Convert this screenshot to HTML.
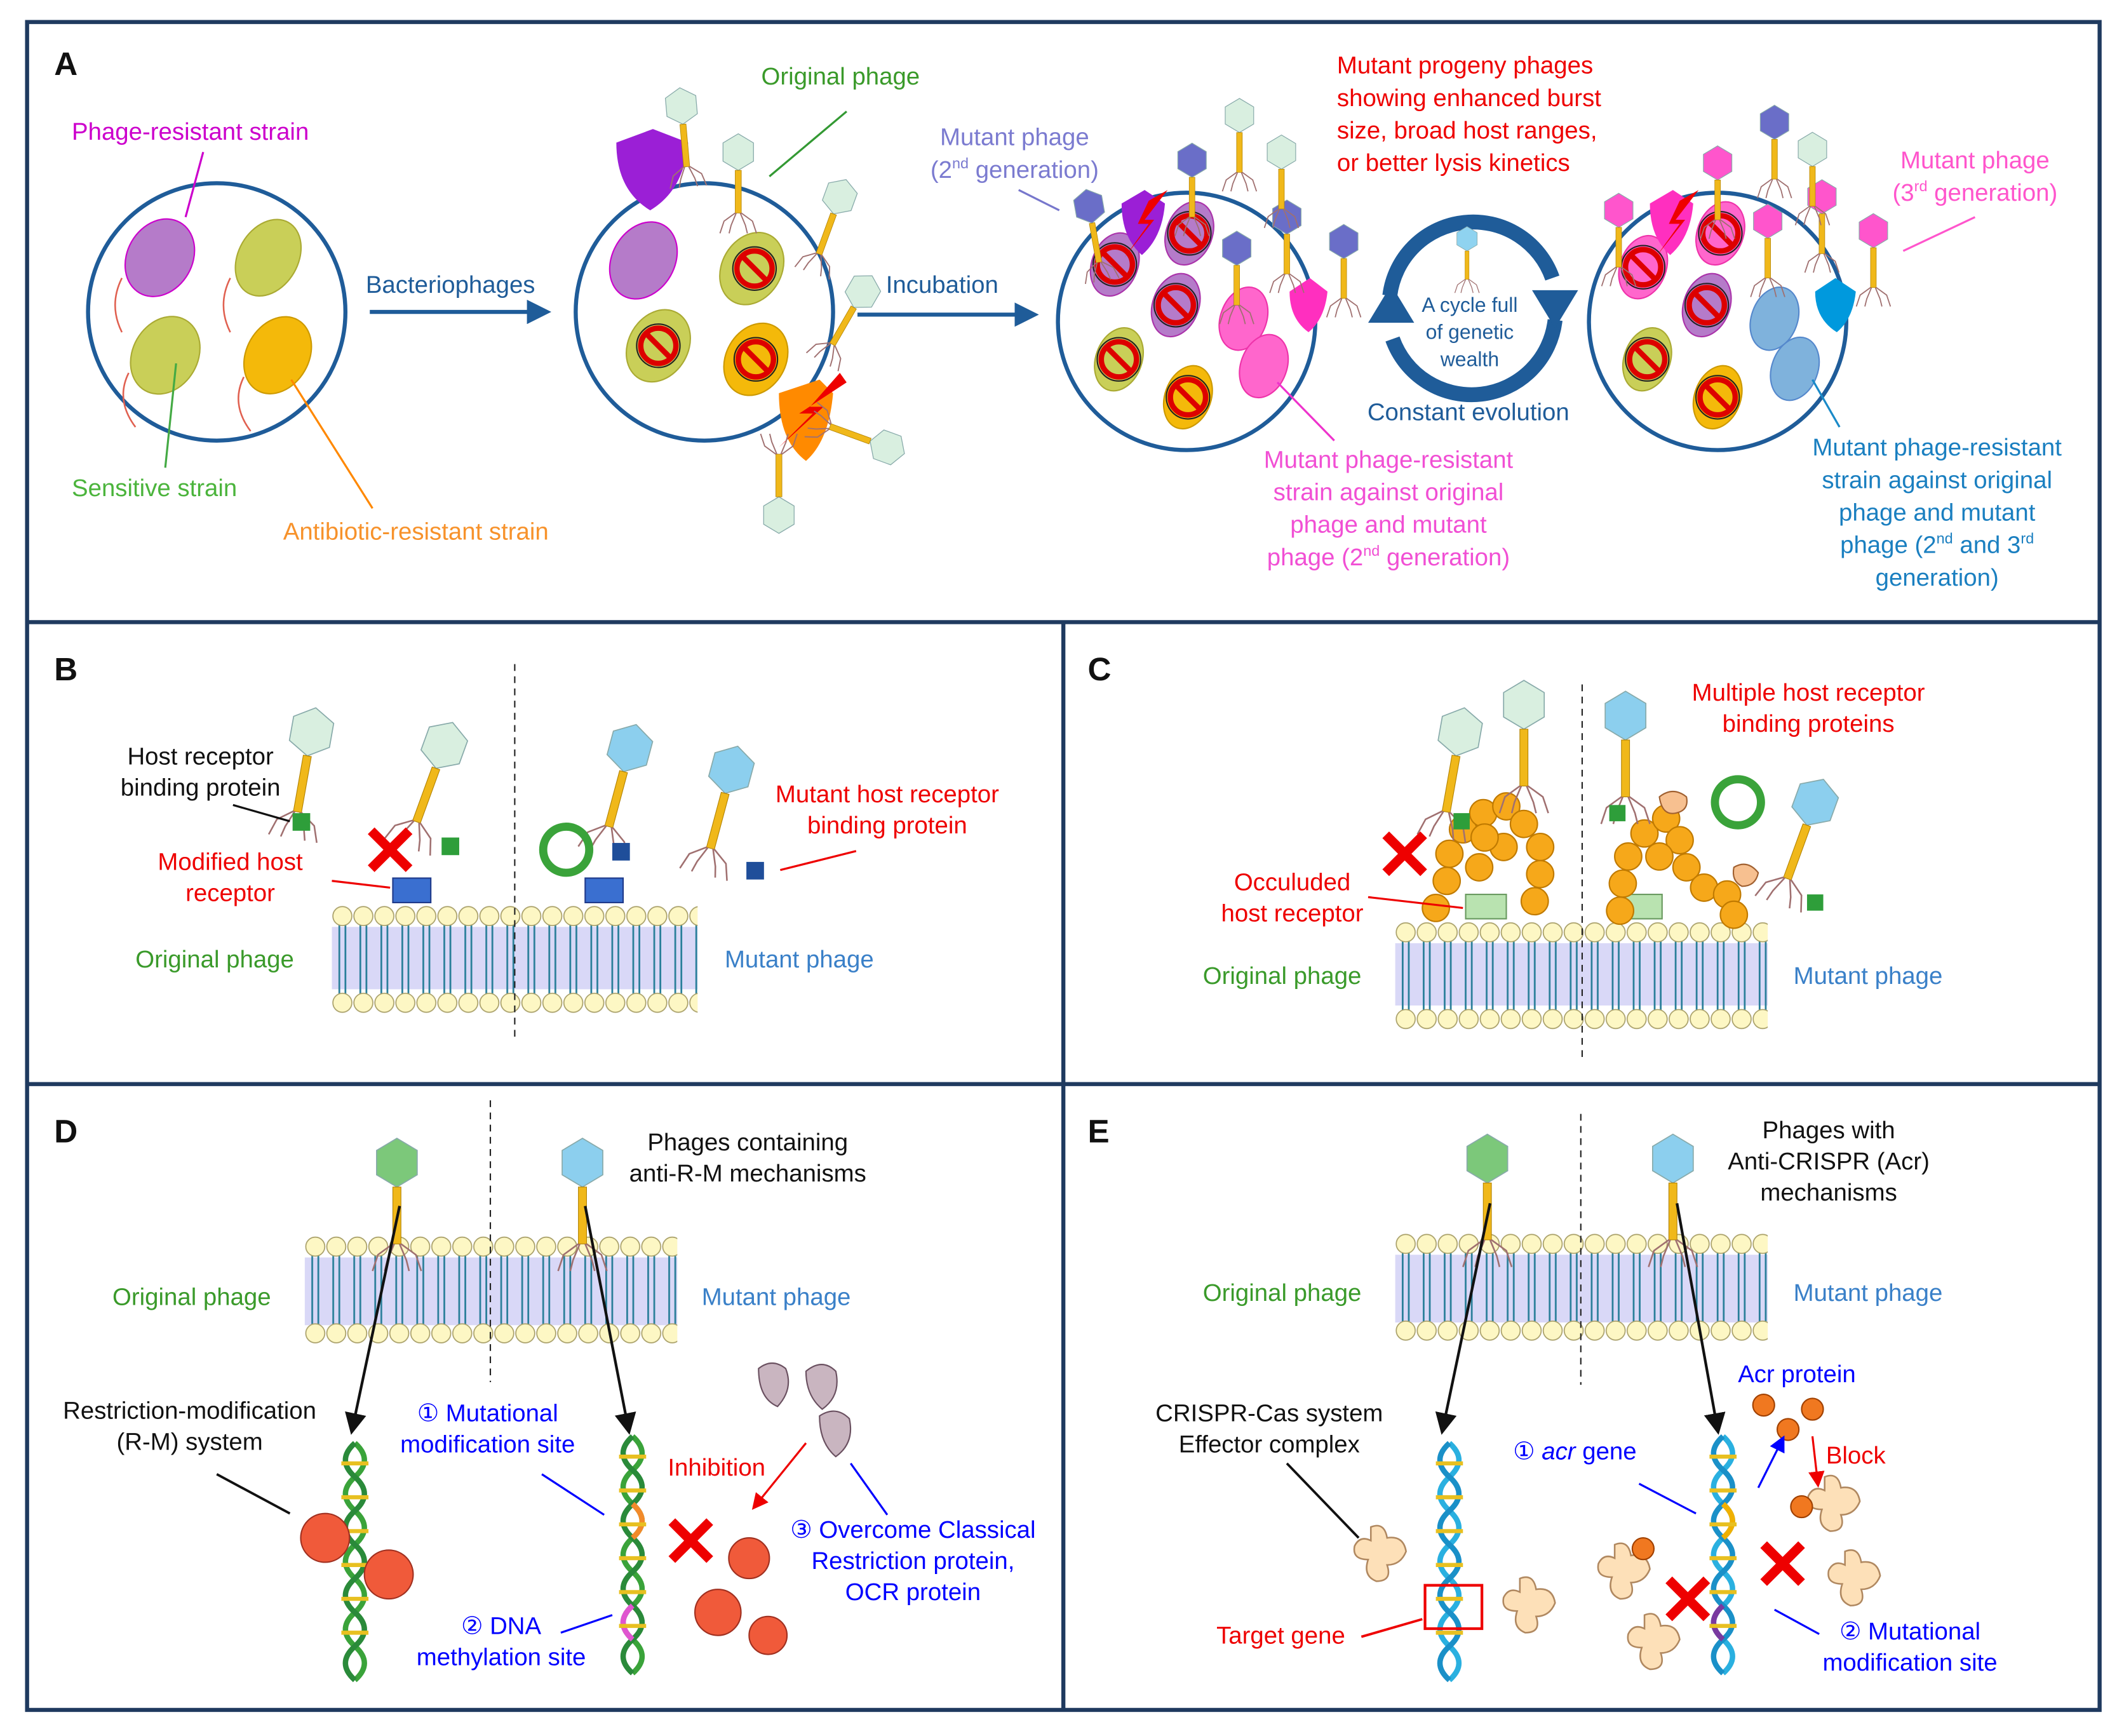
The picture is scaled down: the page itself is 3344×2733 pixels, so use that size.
<!DOCTYPE html>
<html><head><meta charset="utf-8"><style>
html,body{margin:0;padding:0;background:#fff}
svg{display:block}
text{font-family:"Liberation Sans",Arial,sans-serif}
</style></head><body>
<svg width="3344" height="2733" viewBox="0 0 1568 1281" xmlns="http://www.w3.org/2000/svg">
<defs>
<g id="memcell">
<line x1="5.5" y1="14" x2="5.5" y2="66" stroke="#2a7f9a" stroke-width="1.3"/>
<line x1="10" y1="14" x2="10" y2="66" stroke="#2a7f9a" stroke-width="1.3"/>
<circle cx="7.75" cy="8" r="7" fill="#fdf7c4" stroke="#a89f68" stroke-width="0.8"/>
<circle cx="7.75" cy="72" r="7" fill="#fdf7c4" stroke="#a89f68" stroke-width="0.8"/>
</g>
<pattern id="memB" x="245" y="668" width="15.5" height="80" patternUnits="userSpaceOnUse"><use href="#memcell"/></pattern>
<pattern id="memC" x="1030" y="680" width="15.5" height="80" patternUnits="userSpaceOnUse"><use href="#memcell"/></pattern>
<pattern id="memD" x="225" y="912" width="15.5" height="80" patternUnits="userSpaceOnUse"><use href="#memcell"/></pattern>
<pattern id="memE" x="1030" y="910" width="15.5" height="80" patternUnits="userSpaceOnUse"><use href="#memcell"/></pattern>
<g id="ph">
<polygon points="0,-18 15,-9 15,9 0,18 -15,9 -15,-9" stroke="#8aa" stroke-width="0.8"/>
<rect x="-3" y="18" width="6" height="42" fill="#f0b81a" stroke="#b08000" stroke-width="0.5"/>
<path d="M-3,60 L-14,68 L-18,80 M3,60 L14,68 L18,80 M-2,60 L-7,72 L-9,80 M2,60 L7,72 L9,80" stroke="#a07070" stroke-width="1.2" fill="none"/>
</g>
<g id="no"><circle r="13" fill="none" stroke="#d00" stroke-width="4"/><line x1="-9" y1="-9" x2="9" y2="9" stroke="#d00" stroke-width="4"/><circle r="16" fill="none" stroke="#222" stroke-width="1"/></g>
<g id="xx"><path d="M-14,-14 L14,14 M14,-14 L-14,14" stroke="#e00" stroke-width="7"/></g>
<g id="blob"><path d="M-8,-20 Q2,-24 4,-12 Q16,-14 18,-2 Q14,8 4,8 Q8,20 -4,20 Q-14,16 -10,4 Q-22,4 -20,-6 Q-16,-14 -8,-10 Z" fill="#fde0b8" stroke="#b08860" stroke-width="1.2"/></g>
<marker id="ab" markerWidth="8" markerHeight="8" refX="6" refY="4" orient="auto"><path d="M0,0 L8,4 L0,8 Z" fill="#111"/></marker>
<marker id="ar" markerWidth="8" markerHeight="8" refX="6" refY="4" orient="auto"><path d="M0,0 L8,4 L0,8 Z" fill="#e00"/></marker>
<marker id="au" markerWidth="8" markerHeight="8" refX="6" refY="4" orient="auto"><path d="M0,0 L8,4 L0,8 Z" fill="#00f"/></marker>
<marker id="an" markerWidth="6" markerHeight="6" refX="3" refY="3" orient="auto"><path d="M0,0 L6,3 L0,6 Z" fill="#1f5c99"/></marker>
</defs>

<g fill="none" stroke="#1f3a5f" stroke-width="3">
<rect x="20" y="16" width="1530" height="1246"/>
<line x1="20" y1="459" x2="1550" y2="459"/>
<line x1="20" y1="800" x2="1550" y2="800"/>
<line x1="785" y1="459" x2="785" y2="1262"/>
</g>
<g font-weight="bold" font-size="24" fill="#111">
<text x="40" y="55">A</text><text x="40" y="502">B</text><text x="803" y="502">C</text><text x="40" y="843">D</text><text x="803" y="843">E</text>
</g>

<!-- ===== PANEL A ===== -->
<g stroke="#1f5c99" stroke-width="3" fill="none">
<circle cx="160" cy="230" r="95"/>
<circle cx="520" cy="230" r="95"/>
<circle cx="876" cy="237" r="95"/>
<circle cx="1268" cy="237" r="95"/>
</g>
<g stroke-width="1">
<ellipse cx="118" cy="190" rx="30" ry="24" fill="#b57bc9" stroke="#c0c" transform="rotate(-60 118 190)"/>
<ellipse cx="198" cy="190" rx="30" ry="22" fill="#c9cf58" stroke="#aa3" transform="rotate(-60 198 190)"/>
<ellipse cx="122" cy="262" rx="30" ry="24" fill="#c9cf58" stroke="#aa3" transform="rotate(-60 122 262)"/>
<ellipse cx="205" cy="262" rx="30" ry="23" fill="#f4b90a" stroke="#c90" transform="rotate(-60 205 262)"/>
</g>
<g stroke="#e06050" fill="none" stroke-width="1.2">
<path d="M90,205 q-10,20 0,40"/><path d="M170,205 q-10,20 0,40"/><path d="M95,275 q-10,20 5,40"/><path d="M180,278 q-10,20 5,40"/>
</g>
<ellipse cx="475" cy="192" rx="30" ry="23" fill="#b57bc9" stroke="#c0c" transform="rotate(-60 475 192)"/>
<ellipse cx="555" cy="198" rx="28" ry="22" fill="#c9cf58" stroke="#aa3" transform="rotate(-60 555 198)"/>
<ellipse cx="486" cy="255" rx="28" ry="22" fill="#c9cf58" stroke="#aa3" transform="rotate(-60 486 255)"/>
<ellipse cx="558" cy="265" rx="28" ry="22" fill="#f4b90a" stroke="#c90" transform="rotate(-60 558 265)"/>
<use href="#no" x="557" y="198"/><use href="#no" x="486" y="255"/><use href="#no" x="558" y="265"/>
<path d="M455,105 L482,95 L508,105 Q505,140 480,155 Q455,140 455,105Z" fill="#9b1fd6"/>
<path d="M575,290 L605,280 L615,290 Q612,325 595,340 Q575,325 575,290Z" fill="#ff8a00"/>
<path d="M620,275 L598,300 L608,300 L575,330 L600,305 L590,305 L625,282Z" fill="#e00"/>
<g fill="#d9efe0">
<use href="#ph" transform="translate(503,78) rotate(-5) scale(0.75)"/>
<use href="#ph" transform="translate(545,112) scale(0.75)"/>
<use href="#ph" transform="translate(620,145) rotate(20) scale(0.75)"/>
<use href="#ph" transform="translate(637,215) rotate(30) scale(0.75)"/>
<use href="#ph" transform="translate(655,330) rotate(110) scale(0.75)"/>
<use href="#ph" transform="translate(575,380) rotate(180) scale(0.75)"/>
</g>
<g stroke-width="1">
<ellipse cx="823" cy="195" rx="24" ry="17" fill="#b57bc9" stroke="#a3a" transform="rotate(-70 823 195)"/>
<ellipse cx="878" cy="172" rx="24" ry="17" fill="#b57bc9" stroke="#a3a" transform="rotate(-70 878 172)"/>
<ellipse cx="868" cy="225" rx="24" ry="17" fill="#b57bc9" stroke="#a3a" transform="rotate(-70 868 225)"/>
<ellipse cx="918" cy="235" rx="24" ry="17" fill="#ff66cc" stroke="#e3a" transform="rotate(-70 918 235)"/>
<ellipse cx="826" cy="265" rx="24" ry="17" fill="#c9cf58" stroke="#aa3" transform="rotate(-70 826 265)"/>
<ellipse cx="933" cy="270" rx="24" ry="17" fill="#ff66cc" stroke="#e3a" transform="rotate(-70 933 270)"/>
<ellipse cx="877" cy="293" rx="24" ry="17" fill="#f4b90a" stroke="#c90" transform="rotate(-70 877 293)"/>
</g>
<use href="#no" x="823" y="195"/><use href="#no" x="878" y="172"/><use href="#no" x="868" y="225"/><use href="#no" x="826" y="265"/><use href="#no" x="877" y="293"/>
<path d="M828,150 L845,140 L860,150 Q858,175 843,188 Q828,175 828,150Z" fill="#9b1fd6"/>
<path d="M848,148 L840,165 L848,165 L830,190 L852,162 L845,162 L862,140Z" fill="#e00"/>
<path d="M952,215 L967,205 L980,215 Q978,235 966,245 Q952,235 952,215Z" fill="#ff2fbf"/>
<g fill="#6a6ec8">
<use href="#ph" transform="translate(804,152) rotate(-10) scale(0.7)"/>
<use href="#ph" transform="translate(880,118) scale(0.7)"/>
<use href="#ph" transform="translate(950,160) scale(0.7)"/>
<use href="#ph" transform="translate(913,183) scale(0.7)"/>
<use href="#ph" transform="translate(992,178) scale(0.7)"/>
</g>
<g fill="#d9efe0"><use href="#ph" transform="translate(915,85) scale(0.7)"/><use href="#ph" transform="translate(946,112) scale(0.7)"/></g>
<g fill="none" stroke="#1f5c99" stroke-width="11">
<path d="M1026,218 A62,62 0 0 1 1146,205"/>
<path d="M1148,236 A62,62 0 0 1 1028,250"/>
</g>
<path d="M1131,214 L1165,214 L1148,242Z" fill="#1f5c99"/>
<path d="M1010,238 L1044,238 L1027,210Z" fill="#1f5c99"/>
<g fill="#8fd3f0"><use href="#ph" transform="translate(1083,176) scale(0.5)"/></g>
<text font-size="15" fill="#1f5c99" text-anchor="middle"><tspan x="1085" y="230">A cycle full</tspan><tspan x="1085" y="250">of genetic</tspan><tspan x="1085" y="270">wealth</tspan></text>
<text x="1084" y="310" font-size="18" fill="#1f5c99" text-anchor="middle">Constant evolution</text>
<g stroke-width="1">
<ellipse cx="1213" cy="197" rx="24" ry="17" fill="#ff66cc" stroke="#e3a" transform="rotate(-70 1213 197)"/>
<ellipse cx="1270" cy="172" rx="24" ry="17" fill="#ff66cc" stroke="#e3a" transform="rotate(-70 1270 172)"/>
<ellipse cx="1260" cy="225" rx="24" ry="17" fill="#b57bc9" stroke="#a3a" transform="rotate(-70 1260 225)"/>
<ellipse cx="1310" cy="235" rx="24" ry="17" fill="#7fb2dc" stroke="#58c" transform="rotate(-70 1310 235)"/>
<ellipse cx="1216" cy="265" rx="24" ry="17" fill="#c9cf58" stroke="#aa3" transform="rotate(-70 1216 265)"/>
<ellipse cx="1325" cy="272" rx="24" ry="17" fill="#7fb2dc" stroke="#58c" transform="rotate(-70 1325 272)"/>
<ellipse cx="1268" cy="293" rx="24" ry="17" fill="#f4b90a" stroke="#c90" transform="rotate(-70 1268 293)"/>
</g>
<use href="#no" x="1213" y="197"/><use href="#no" x="1270" y="172"/><use href="#no" x="1260" y="225"/><use href="#no" x="1216" y="265"/><use href="#no" x="1268" y="293"/>
<path d="M1218,150 L1235,140 L1250,150 Q1248,175 1233,188 Q1218,175 1218,150Z" fill="#ff2fbf"/>
<path d="M1240,148 L1232,165 L1240,165 L1222,190 L1244,162 L1237,162 L1254,140Z" fill="#e00"/>
<path d="M1340,215 L1355,205 L1370,215 Q1368,235 1356,245 Q1340,235 1340,215Z" fill="#0099dd"/>
<g fill="#ff55cc">
<use href="#ph" transform="translate(1195,155) scale(0.7)"/>
<use href="#ph" transform="translate(1268,120) scale(0.7)"/>
<use href="#ph" transform="translate(1305,163) scale(0.7)"/>
<use href="#ph" transform="translate(1345,145) scale(0.7)"/>
<use href="#ph" transform="translate(1383,170) scale(0.7)"/>
</g>
<g fill="#6a6ec8"><use href="#ph" transform="translate(1310,90) scale(0.7)"/></g>
<g fill="#d9efe0"><use href="#ph" transform="translate(1338,110) scale(0.7)"/></g>
<g stroke="#1f5c99" stroke-width="3"><line x1="273" y1="230" x2="398" y2="230" marker-end="url(#an)"/><line x1="633" y1="232" x2="758" y2="232" marker-end="url(#an)"/></g>
<line x1="150" y1="112" x2="137" y2="160" stroke="#c0c" stroke-width="1.5"/>
<line x1="130" y1="268" x2="122" y2="345" stroke="#4a4" stroke-width="1.5"/>
<line x1="215" y1="280" x2="275" y2="375" stroke="#f80" stroke-width="1.5"/>
<line x1="625" y1="82" x2="568" y2="130" stroke="#393" stroke-width="1.5"/>
<line x1="752" y1="140" x2="782" y2="155" stroke="#77c" stroke-width="1.5"/>
<line x1="943" y1="282" x2="985" y2="325" stroke="#e3c" stroke-width="1.5"/>
<line x1="1458" y1="160" x2="1405" y2="185" stroke="#f5c" stroke-width="1.5"/>
<line x1="1338" y1="280" x2="1358" y2="315" stroke="#1a8ac8" stroke-width="1.5"/>
<g font-size="18">
<text x="53" y="103" fill="#c0c">Phage-resistant strain</text>
<text x="53" y="366" fill="#4bb43c">Sensitive strain</text>
<text x="209" y="398" fill="#f7922b">Antibiotic-resistant strain</text>
<text x="562" y="62" fill="#3a9a2a">Original phage</text>
<text x="270" y="216" fill="#1f5c99">Bacteriophages</text>
<text x="654" y="216" fill="#1f5c99">Incubation</text>
<text fill="#7b7bd0" text-anchor="middle"><tspan x="749" y="107">Mutant phage</tspan><tspan x="749" y="131">(2<tspan font-size="11" dy="-7">nd</tspan><tspan dy="7"> generation)</tspan></tspan></text>
<text fill="#e00"><tspan x="987" y="54">Mutant progeny phages</tspan><tspan x="987" y="78">showing enhanced burst</tspan><tspan x="987" y="102">size, broad host ranges,</tspan><tspan x="987" y="126">or better lysis kinetics</tspan></text>
<text fill="#f5c" text-anchor="middle"><tspan x="1458" y="124">Mutant phage</tspan><tspan x="1458" y="148">(3<tspan font-size="11" dy="-7">rd</tspan><tspan dy="7"> generation)</tspan></tspan></text>
<text fill="#f14fd4" text-anchor="middle"><tspan x="1025" y="345">Mutant phage-resistant</tspan><tspan x="1025" y="369">strain against original</tspan><tspan x="1025" y="393">phage and mutant</tspan><tspan x="1025" y="417">phage (2<tspan font-size="11" dy="-7">nd</tspan><tspan dy="7"> generation)</tspan></tspan></text>
<text fill="#1a7fc0" text-anchor="middle"><tspan x="1430" y="336">Mutant phage-resistant</tspan><tspan x="1430" y="360">strain against original</tspan><tspan x="1430" y="384">phage and mutant</tspan><tspan x="1430" y="408">phage (2<tspan font-size="11" dy="-7">nd</tspan><tspan dy="7"> and 3</tspan><tspan font-size="11" dy="-7">rd</tspan></tspan><tspan x="1430" y="432">generation)</tspan></text>
</g>

<!-- ===== PANEL B ===== -->
<rect x="245" y="684" width="270" height="46" fill="#c9c8f4" opacity="0.7"/>
<rect x="245" y="668" width="270" height="80" fill="url(#memB)"/>
<line x1="380" y1="490" x2="380" y2="768" stroke="#222" stroke-dasharray="5,4"/>
<path d="M290,648 h28 v18 h-28 Z" fill="#3a6fd0" stroke="#1f3a8a"/>
<path d="M432,648 h28 v18 h-28 Z" fill="#3a6fd0" stroke="#1f3a8a"/>
<g fill="#d9efe0"><use href="#ph" x="230" y="540" transform="rotate(10 230 540)"/><use href="#ph" x="328" y="550" transform="rotate(20 328 550)"/></g>
<g fill="#8ccfee"><use href="#ph" x="465" y="552" transform="rotate(15 465 552)"/><use href="#ph" x="540" y="568" transform="rotate(15 540 568)"/></g>
<rect x="216" y="600" width="13" height="13" fill="#2e9e3a"/><rect x="326" y="618" width="13" height="13" fill="#2e9e3a"/>
<rect x="452" y="622" width="13" height="13" fill="#1f4e9a"/><rect x="551" y="636" width="13" height="13" fill="#1f4e9a"/>
<use href="#xx" x="288" y="627"/>
<circle cx="418" cy="627" r="17" fill="none" stroke="#3aa33a" stroke-width="6"/>
<line x1="172" y1="594" x2="214" y2="606" stroke="#111" stroke-width="1.5"/>
<line x1="245" y1="650" x2="288" y2="655" stroke="#e00" stroke-width="1.5"/>
<line x1="632" y1="628" x2="576" y2="642" stroke="#e00" stroke-width="1.5"/>
<g font-size="18">
<text fill="#111" text-anchor="middle"><tspan x="148" y="564">Host receptor</tspan><tspan x="148" y="587">binding protein</tspan></text>
<text fill="#e00" text-anchor="middle"><tspan x="170" y="642">Modified host</tspan><tspan x="170" y="665">receptor</tspan></text>
<text x="100" y="714" fill="#3a9a2a">Original phage</text>
<text x="535" y="714" fill="#3a80c8">Mutant phage</text>
<text fill="#e00" text-anchor="middle"><tspan x="655" y="592">Mutant host receptor</tspan><tspan x="655" y="615">binding protein</tspan></text>
</g>

<!-- ===== PANEL C ===== -->
<rect x="1030" y="696" width="275" height="46" fill="#c9c8f4" opacity="0.7"/>
<rect x="1030" y="680" width="275" height="80" fill="url(#memC)"/>
<line x1="1168" y1="505" x2="1168" y2="780" stroke="#222" stroke-dasharray="5,4"/>
<path d="M1082,660 h30 v18 h-30 Z" fill="#b9e3b0" stroke="#6a9a60"/>
<path d="M1197,660 h30 v18 h-30 Z" fill="#b9e3b0" stroke="#6a9a60"/>
<g fill="#f6a81a" stroke="#c07a00" stroke-width="1">
<circle cx="1060" cy="670" r="10"/><circle cx="1068" cy="650" r="10"/><circle cx="1070" cy="630" r="10"/><circle cx="1080" cy="612" r="10"/><circle cx="1095" cy="600" r="10"/><circle cx="1112" cy="595" r="10"/><circle cx="1125" cy="608" r="10"/><circle cx="1110" cy="625" r="10"/><circle cx="1096" cy="618" r="10"/><circle cx="1137" cy="625" r="10"/><circle cx="1137" cy="645" r="10"/><circle cx="1133" cy="665" r="10"/><circle cx="1092" cy="640" r="10"/>
<circle cx="1196" cy="672" r="10"/><circle cx="1198" cy="652" r="10"/><circle cx="1202" cy="632" r="10"/><circle cx="1214" cy="615" r="10"/><circle cx="1230" cy="604" r="10"/><circle cx="1240" cy="620" r="10"/><circle cx="1245" cy="640" r="10"/><circle cx="1258" cy="655" r="10"/><circle cx="1275" cy="660" r="10"/><circle cx="1280" cy="675" r="10"/><circle cx="1225" cy="632" r="10"/>
</g>
<path d="M1225,588 q10,-8 20,0 q2,10 -8,12 q-10,2 -12,-12Z" fill="#f7c090" stroke="#a06030"/>
<path d="M1280,640 q10,-6 18,4 q-2,10 -12,10 q-8,-4 -6,-14Z" fill="#f7c090" stroke="#a06030"/>
<g fill="#d9efe0"><use href="#ph" x="1078" y="540" transform="rotate(10 1078 540)"/><use href="#ph" x="1125" y="520"/></g>
<g fill="#8ccfee"><use href="#ph" x="1200" y="528"/><use href="#ph" x="1340" y="592" transform="rotate(20 1340 592)"/></g>
<rect x="1073" y="600" width="12" height="12" fill="#2e9e3a"/><rect x="1188" y="594" width="12" height="12" fill="#2e9e3a"/><rect x="1334" y="660" width="12" height="12" fill="#2e9e3a"/>
<use href="#xx" x="1037" y="630"/>
<circle cx="1283" cy="592" r="17" fill="none" stroke="#3aa33a" stroke-width="6"/>
<line x1="1010" y1="662" x2="1080" y2="670" stroke="#e00" stroke-width="1.5"/>
<g font-size="18">
<text fill="#e00" text-anchor="middle"><tspan x="1335" y="517">Multiple host receptor</tspan><tspan x="1335" y="540">binding proteins</tspan></text>
<text fill="#e00" text-anchor="middle"><tspan x="954" y="657">Occuluded</tspan><tspan x="954" y="680">host receptor</tspan></text>
<text x="888" y="726" fill="#3a9a2a">Original phage</text>
<text x="1324" y="726" fill="#3a80c8">Mutant phage</text>
</g>

<!-- ===== PANEL D ===== -->
<rect x="225" y="928" width="275" height="50" fill="#c9c8f4" opacity="0.7"/>
<rect x="225" y="912" width="275" height="80" fill="url(#memD)"/>
<line x1="362" y1="812" x2="362" y2="1020" stroke="#222" stroke-dasharray="5,4"/>
<g fill="#7cc87a"><use href="#ph" x="293" y="858"/></g>
<g fill="#8ccfee"><use href="#ph" x="430" y="858"/></g>
<line x1="295" y1="890" x2="260" y2="1055" stroke="#111" stroke-width="2" marker-end="url(#ab)"/>
<line x1="432" y1="890" x2="464" y2="1055" stroke="#111" stroke-width="2" marker-end="url(#ab)"/>
<g fill="none" stroke-width="4">
<path d="M262,1065 q14,12.5 0,25 t0,25 t0,25 t0,25 t0,25 t0,25 t0,25" stroke="#3aa33a"/>
<path d="M262,1065 q-14,12.5 0,25 t0,25 t0,25 t0,25 t0,25 t0,25 t0,25" stroke="#2a8a3a"/>
<path d="M467,1060 q14,12.5 0,25 t0,25 t0,25 t0,25 t0,25 t0,25 t0,25" stroke="#3aa33a"/>
<path d="M467,1060 q-14,12.5 0,25 t0,25 t0,25 t0,25 t0,25 t0,25 t0,25" stroke="#2a8a3a"/>
<path d="M467,1110 q14,12.5 0,25" stroke="#f28a2a"/>
<path d="M467,1185 q-14,12.5 0,25" stroke="#e055d0"/>
</g>
<g stroke-width="3"><path d="M252,1080 h20 M252,1105 h20 M252,1130 h20 M252,1155 h20 M252,1180 h20 M252,1205 h20 M457,1075 h20 M457,1100 h20 M457,1125 h20 M457,1150 h20 M457,1175 h20 M457,1200 h20" stroke="#e8c020"/></g>
<g fill="#f05a3a" stroke="#a03020"><circle cx="240" cy="1135" r="18"/><circle cx="287" cy="1162" r="18"/><circle cx="553" cy="1150" r="15"/><circle cx="530" cy="1190" r="17"/><circle cx="567" cy="1207" r="14"/></g>
<g fill="#c9b5c0" stroke="#6a5060"><path d="M560,1010 q10,-8 20,0 q6,15 -6,28 q-14,-6 -14,-28Z"/><path d="M595,1012 q12,-10 22,0 q4,18 -10,28 q-12,-10 -12,-28Z"/><path d="M605,1045 q12,-8 22,2 q4,18 -10,28 q-12,-10 -12,-30Z"/></g>
<use href="#xx" x="510" y="1137"/>
<line x1="595" y1="1065" x2="557" y2="1112" stroke="#e00" stroke-width="1.5" marker-end="url(#ar)"/>
<line x1="628" y1="1080" x2="655" y2="1118" stroke="#00f" stroke-width="1.5"/>
<line x1="160" y1="1088" x2="214" y2="1117" stroke="#111" stroke-width="1.8"/>
<line x1="400" y1="1088" x2="446" y2="1118" stroke="#00f" stroke-width="1.5"/>
<line x1="414" y1="1205" x2="452" y2="1192" stroke="#00f" stroke-width="1.5"/>
<g font-size="18">
<text fill="#111" text-anchor="middle"><tspan x="552" y="849">Phages containing</tspan><tspan x="552" y="872">anti-R-M mechanisms</tspan></text>
<text x="83" y="963" fill="#3a9a2a">Original phage</text>
<text x="518" y="963" fill="#3a80c8">Mutant phage</text>
<text fill="#111" text-anchor="middle"><tspan x="140" y="1047">Restriction-modification</tspan><tspan x="140" y="1070">(R-M) system</tspan></text>
<text fill="#00f" text-anchor="middle"><tspan x="360" y="1049">① Mutational</tspan><tspan x="360" y="1072">modification site</tspan></text>
<text x="493" y="1089" fill="#e00">Inhibition</text>
<text fill="#00f" text-anchor="middle"><tspan x="674" y="1135">③ Overcome Classical</tspan><tspan x="674" y="1158">Restriction protein,</tspan><tspan x="674" y="1181">OCR protein</tspan></text>
<text fill="#00f" text-anchor="middle"><tspan x="370" y="1206">② DNA</tspan><tspan x="370" y="1229">methylation site</tspan></text>
</g>

<!-- ===== PANEL E ===== -->
<rect x="1030" y="926" width="275" height="50" fill="#c9c8f4" opacity="0.7"/>
<rect x="1030" y="910" width="275" height="80" fill="url(#memE)"/>
<line x1="1167" y1="822" x2="1167" y2="1022" stroke="#222" stroke-dasharray="5,4"/>
<g fill="#7cc87a"><use href="#ph" x="1098" y="855"/></g>
<g fill="#8ccfee"><use href="#ph" x="1235" y="855"/></g>
<line x1="1100" y1="888" x2="1065" y2="1055" stroke="#111" stroke-width="2" marker-end="url(#ab)"/>
<line x1="1238" y1="888" x2="1268" y2="1055" stroke="#111" stroke-width="2" marker-end="url(#ab)"/>
<g fill="none" stroke-width="4">
<path d="M1070,1065 q14,12.5 0,25 t0,25 t0,25 t0,25 t0,25 t0,25 t0,25" stroke="#2ab0e0"/>
<path d="M1070,1065 q-14,12.5 0,25 t0,25 t0,25 t0,25 t0,25 t0,25 t0,25" stroke="#1a90c8"/>
<path d="M1272,1060 q14,12.5 0,25 t0,25 t0,25 t0,25 t0,25 t0,25 t0,25" stroke="#2ab0e0"/>
<path d="M1272,1060 q-14,12.5 0,25 t0,25 t0,25 t0,25 t0,25 t0,25 t0,25" stroke="#1a90c8"/>
<path d="M1272,1110 q14,12.5 0,25" stroke="#f0b000"/>
<path d="M1272,1185 q-14,12.5 0,25" stroke="#7a3aa0"/>
</g>
<g stroke-width="3" stroke="#e8c020"><path d="M1060,1080 h20 M1060,1105 h20 M1060,1130 h20 M1060,1155 h20 M1060,1180 h20 M1060,1205 h20 M1262,1075 h20 M1262,1100 h20 M1262,1125 h20 M1262,1150 h20 M1262,1175 h20 M1262,1200 h20"/></g>
<rect x="1052" y="1170" width="42" height="32" fill="none" stroke="#e00" stroke-width="2"/>
<use href="#blob" x="1020" y="1147"/><use href="#blob" x="1130" y="1185"/><use href="#blob" x="1355" y="1110"/><use href="#blob" x="1200" y="1160"/><use href="#blob" x="1370" y="1165"/><use href="#blob" x="1222" y="1212"/>
<g fill="#f07820" stroke="#a04000"><circle cx="1302" cy="1037" r="8"/><circle cx="1338" cy="1040" r="8"/><circle cx="1320" cy="1055" r="8"/><circle cx="1330" cy="1112" r="8"/><circle cx="1213" cy="1143" r="8"/></g>
<use href="#xx" x="1246" y="1180"/><use href="#xx" x="1316" y="1154"/>
<line x1="1298" y1="1098" x2="1316" y2="1062" stroke="#00f" stroke-width="1.5" marker-end="url(#au)"/>
<line x1="1338" y1="1060" x2="1342" y2="1095" stroke="#e00" stroke-width="1.5" marker-end="url(#ar)"/>
<line x1="950" y1="1080" x2="1003" y2="1135" stroke="#111" stroke-width="1.8"/>
<line x1="1005" y1="1208" x2="1050" y2="1195" stroke="#e00" stroke-width="1.8"/>
<line x1="1210" y1="1095" x2="1252" y2="1117" stroke="#00f" stroke-width="1.5"/>
<line x1="1310" y1="1188" x2="1343" y2="1206" stroke="#00f" stroke-width="1.5"/>
<g font-size="18">
<text fill="#111" text-anchor="middle"><tspan x="1350" y="840">Phages with</tspan><tspan x="1350" y="863">Anti-CRISPR (Acr)</tspan><tspan x="1350" y="886">mechanisms</tspan></text>
<text x="888" y="960" fill="#3a9a2a">Original phage</text>
<text x="1324" y="960" fill="#3a80c8">Mutant phage</text>
<text fill="#111" text-anchor="middle"><tspan x="937" y="1049">CRISPR-Cas system</tspan><tspan x="937" y="1072">Effector complex</tspan></text>
<text x="1283" y="1020" fill="#00f">Acr protein</text>
<text x="1117" y="1077" fill="#00f">① <tspan font-style="italic">acr</tspan> gene</text>
<text x="1348" y="1080" fill="#e00">Block</text>
<text x="898" y="1213" fill="#e00">Target gene</text>
<text fill="#00f" text-anchor="middle"><tspan x="1410" y="1210">② Mutational</tspan><tspan x="1410" y="1233">modification site</tspan></text>
</g>
</svg>
</body></html>
